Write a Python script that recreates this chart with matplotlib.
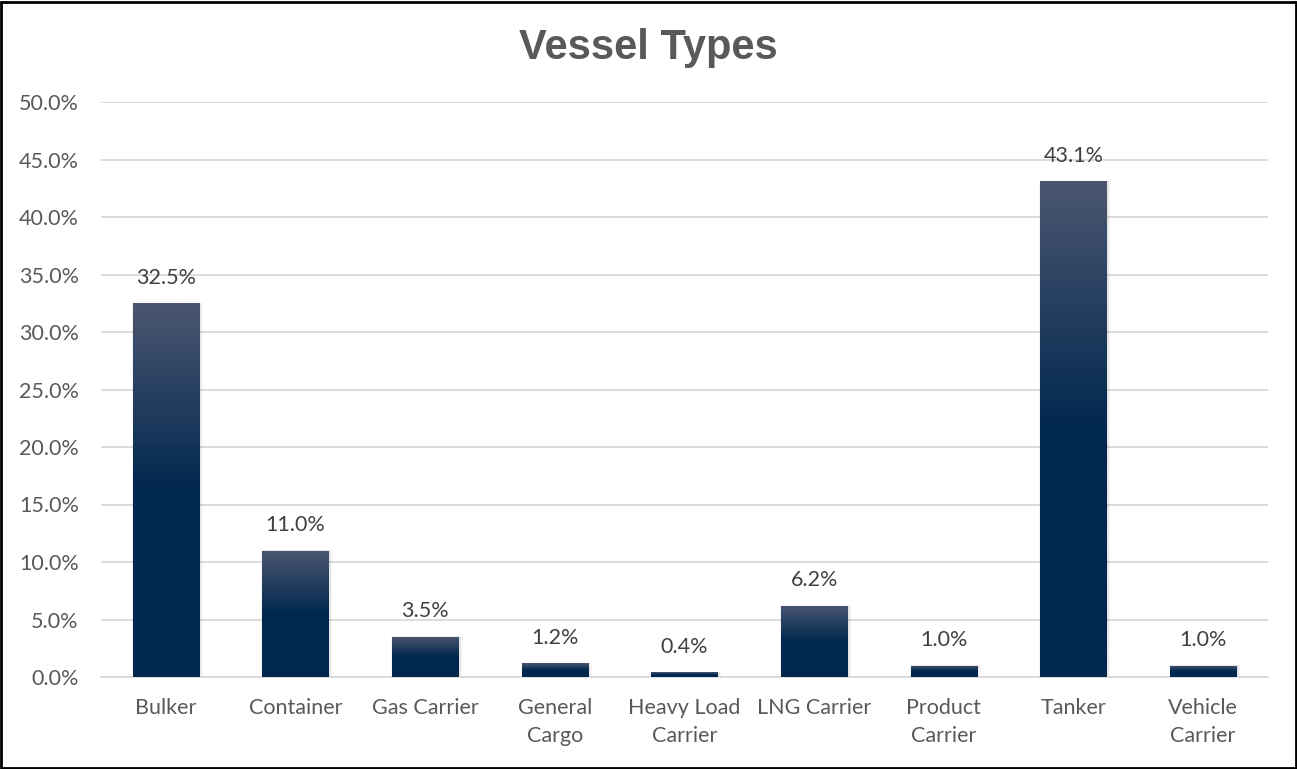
import numpy as np
import matplotlib.pyplot as plt
from matplotlib.patches import Rectangle
from matplotlib.colors import LinearSegmentedColormap

# Datos
categories = ["Bulker", "Container", "Gas Carrier", "General\nCargo", "Heavy Load\nCarrier",
              "LNG Carrier", "Product\nCarrier", "Tanker", "Vehicle\nCarrier"]
shares = [32.5, 11.0, 3.5, 1.2, 0.4, 6.2, 1.0, 43.1, 1.0]
labels = ["32.5%", "11.0%", "3.5%", "1.2%", "0.4%", "6.2%", "1.0%", "43.1%", "1.0%"]
yticks = [0, 5, 10, 15, 20, 25, 30, 35, 40, 45, 50]

W, H = 1297, 769
fig = plt.figure(figsize=(W / 100, H / 100), dpi=100)
ax = fig.add_axes([101 / W, (H - 677) / H, (1268 - 101) / W, (677 - 102) / H])

# degradado: claro arriba, azul oscuro en la mitad inferior
cmap = LinearSegmentedColormap.from_list("bar", [(0, "#01284f"), (0.5, "#01284f"), (1, "#4a5671")])
grad = np.linspace(0, 1, 256).reshape(-1, 1)

width = 0.51
for i, v in enumerate(shares):
    x0 = i - width / 2
    # sombra suave
    for k, a in zip([0.06, 0.03], [0.04, 0.06]):
        ax.add_patch(Rectangle((x0 - k * 0.3 + 0.01, 0), width + k * 0.6, v + k * 0.4,
                               facecolor="#000000", alpha=a, edgecolor="none", zorder=2))
    rect = Rectangle((x0, 0), width, v, facecolor="none", edgecolor="none", zorder=3)
    ax.add_patch(rect)
    im = ax.imshow(grad, cmap=cmap, aspect="auto", origin="lower",
                   extent=(x0, x0 + width, 0, v), zorder=3)
    im.set_clip_path(rect)
    ax.text(i, v + 2.2, labels[i], ha="center", va="center", fontsize=15.5,
            color="#404040", family="Lato")

ax.set_xlim(-0.5, len(categories) - 0.5)
ax.set_ylim(0, 50)
ax.set_yticks(yticks)
ax.set_yticklabels([f"{t:.1f}%" for t in yticks], fontsize=15.5, color="#595959", family="Lato")
ax.set_xticks(range(len(categories)))
ax.set_xticklabels(categories, fontsize=15.5, color="#595959", family="Lato", linespacing=1.5)
ax.tick_params(axis="both", length=0)
ax.tick_params(axis="y", pad=16)
ax.tick_params(axis="x", pad=15)
ax.grid(axis="y", color="#d9d9d9", linewidth=1.3, zorder=0)
ax.set_axisbelow(True)
for s in ["top", "right", "left"]:
    ax.spines[s].set_visible(False)
ax.spines["bottom"].set_color("#d9d9d9")
ax.spines["bottom"].set_linewidth(1.3)

fig.text(0.5, (H - 48) / H, "Vessel Types", ha="center", va="center",
         fontsize=30, fontweight="bold", color="#595959", family="Liberation Sans")

# borde de la figura
fig.patches.append(Rectangle((0.001, 0.001), 0.998, 0.997, transform=fig.transFigure,
                             fill=False, edgecolor="black", linewidth=2))

plt.savefig("out.png", dpi=100)
